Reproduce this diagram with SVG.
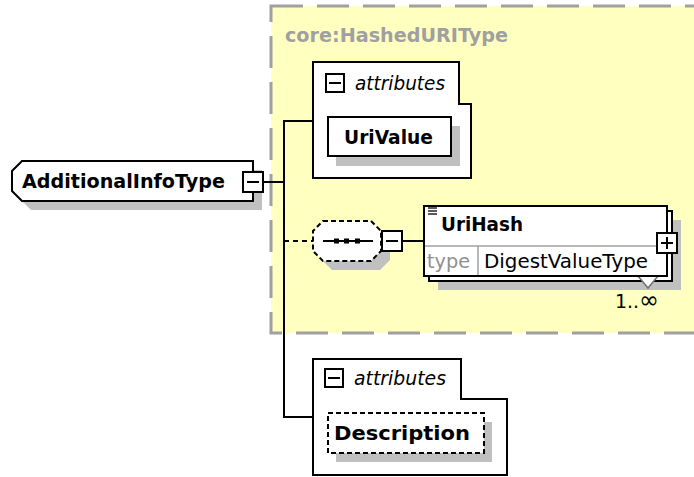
<svg xmlns="http://www.w3.org/2000/svg" width="694" height="477" viewBox="0 0 694 477">
<defs>
<style>
.ln{stroke:#000;stroke-width:2;fill:none}
.box{fill:#fff;stroke:#000;stroke-width:2}
.shd{fill:#c0c0c0;stroke:none}
.dsh{fill:#fff;stroke:#000;stroke-width:2;stroke-dasharray:5 3}
.b{font-family:"DejaVu Sans","Liberation Sans",sans-serif;font-weight:bold;font-size:20px;fill:#000}
.n{font-family:"DejaVu Sans","Liberation Sans",sans-serif;font-size:19px;fill:#000}
.it{font-family:"DejaVu Sans","Liberation Sans",sans-serif;font-style:italic;font-size:20px;fill:#000}
.icon{fill:#fff;stroke:#000;stroke-width:2}
.mk{stroke:#000;stroke-width:2}
</style>
</defs>
<rect width="694" height="477" fill="#fff"/>
<g id="group-core-HashedURIType">
<rect x="271" y="6" width="440" height="327" fill="#ffffc0" stroke="#a0a0a0" stroke-width="3" stroke-dasharray="32 14"/>
<text x="285" y="42" class="b" style="fill:#a0a0a0" textLength="223" lengthAdjust="spacingAndGlyphs">core:HashedURIType</text>
</g>
<g id="connectors">
<line class="ln" x1="263" y1="182" x2="284" y2="182"/>
<line class="ln" x1="284" y1="120" x2="284" y2="418"/>
<line class="ln" x1="283" y1="121" x2="313" y2="121"/>
<line class="ln" x1="284" y1="241" x2="313" y2="241" stroke-dasharray="5 4"/>
<line class="ln" x1="402" y1="241" x2="424" y2="241"/>
<line class="ln" x1="283" y1="417" x2="313" y2="417"/>
</g>
<g id="node-AdditionalInfoType">
<polygon class="shd" points="31,170 262,170 262,210 31,210 21,200 21,180"/>
<polygon class="box" points="22,161 253,161 253,201 22,201 12,191 12,171"/>
<text x="22" y="188" class="b" textLength="203" lengthAdjust="spacingAndGlyphs">AdditionalInfoType</text>
<rect class="icon" x="243" y="172" width="20" height="20"/>
<line class="mk" x1="247" y1="182" x2="259" y2="182"/>
</g>
<g id="node-attributes-1">
<path class="box" d="M313,62 H459 V104 H471 V178 H313 Z"/>
<rect class="icon" x="326" y="74" width="18" height="18"/>
<line class="mk" x1="329" y1="83" x2="341" y2="83"/>
<text x="355" y="90" class="it" textLength="90" lengthAdjust="spacingAndGlyphs">attributes</text>
</g>
<g id="node-UriValue">
<rect class="shd" x="336" y="126" width="124" height="40"/>
<rect class="box" x="328" y="117" width="123" height="39"/>
<text x="344" y="144" class="b" textLength="89" lengthAdjust="spacingAndGlyphs">UriValue</text>
</g>
<g id="node-sequence">
<polygon class="shd" points="332,230 380,230 390,240 390,260 380,270 332,270 322,260 322,240"/>
<polygon class="dsh" points="323,221 371,221 381,231 381,251 371,261 323,261 313,251 313,231"/>
<line class="mk" x1="323" y1="241" x2="373" y2="241"/>
<rect x="334" y="238.5" width="5" height="5" fill="#000"/>
<rect x="344" y="238.5" width="5" height="5" fill="#000"/>
<rect x="355" y="238.5" width="5" height="5" fill="#000"/>
<rect class="icon" x="382" y="231" width="20" height="20"/>
<line class="mk" x1="386" y1="241" x2="398" y2="241"/>
</g>
<g id="node-UriHash">
<rect class="shd" x="438" y="220" width="243" height="70"/>
<rect class="box" x="429" y="211" width="243" height="70"/>
<polygon points="638,276 648,288 658,276" fill="#fff" stroke="#707070" stroke-width="1.5"/>
<rect class="box" x="424" y="206" width="243" height="70"/>
<line x1="425" y1="246" x2="666" y2="246" stroke="#a0a0a0" stroke-width="1.5"/>
<line x1="478" y1="246" x2="478" y2="275" stroke="#a0a0a0" stroke-width="1.5"/>
<line x1="428" y1="208" x2="437" y2="208" stroke="#000" stroke-width="1.3"/>
<line x1="428" y1="211" x2="437" y2="211" stroke="#000" stroke-width="1.3"/>
<line x1="428" y1="214" x2="437" y2="214" stroke="#000" stroke-width="1.3"/>
<text x="441" y="231" class="b" textLength="82" lengthAdjust="spacingAndGlyphs">UriHash</text>
<text x="427" y="268" class="n" style="fill:#909090" textLength="43" lengthAdjust="spacingAndGlyphs">type</text>
<text x="484" y="268" class="n" textLength="164" lengthAdjust="spacingAndGlyphs">DigestValueType</text>
<rect class="icon" x="657" y="233" width="20" height="20"/>
<line class="mk" x1="661" y1="243" x2="673" y2="243"/>
<line class="mk" x1="667" y1="237" x2="667" y2="249"/>
<text x="615" y="308" class="n" textLength="44" lengthAdjust="spacingAndGlyphs">1..<tspan style="font-size:24px">∞</tspan></text>
</g>
<g id="node-attributes-2">
<path class="box" d="M313,359 H461 V399 H507 V475 H313 Z"/>
<rect class="icon" x="325" y="369" width="18" height="18"/>
<line class="mk" x1="328" y1="378" x2="340" y2="378"/>
<text x="354" y="385" class="it" textLength="92" lengthAdjust="spacingAndGlyphs">attributes</text>
</g>
<g id="node-Description">
<rect class="shd" x="336" y="422" width="156" height="40"/>
<rect class="dsh" x="328" y="413" width="156" height="40"/>
<text x="334" y="440" class="b" textLength="136" lengthAdjust="spacingAndGlyphs">Description</text>
</g>
</svg>
